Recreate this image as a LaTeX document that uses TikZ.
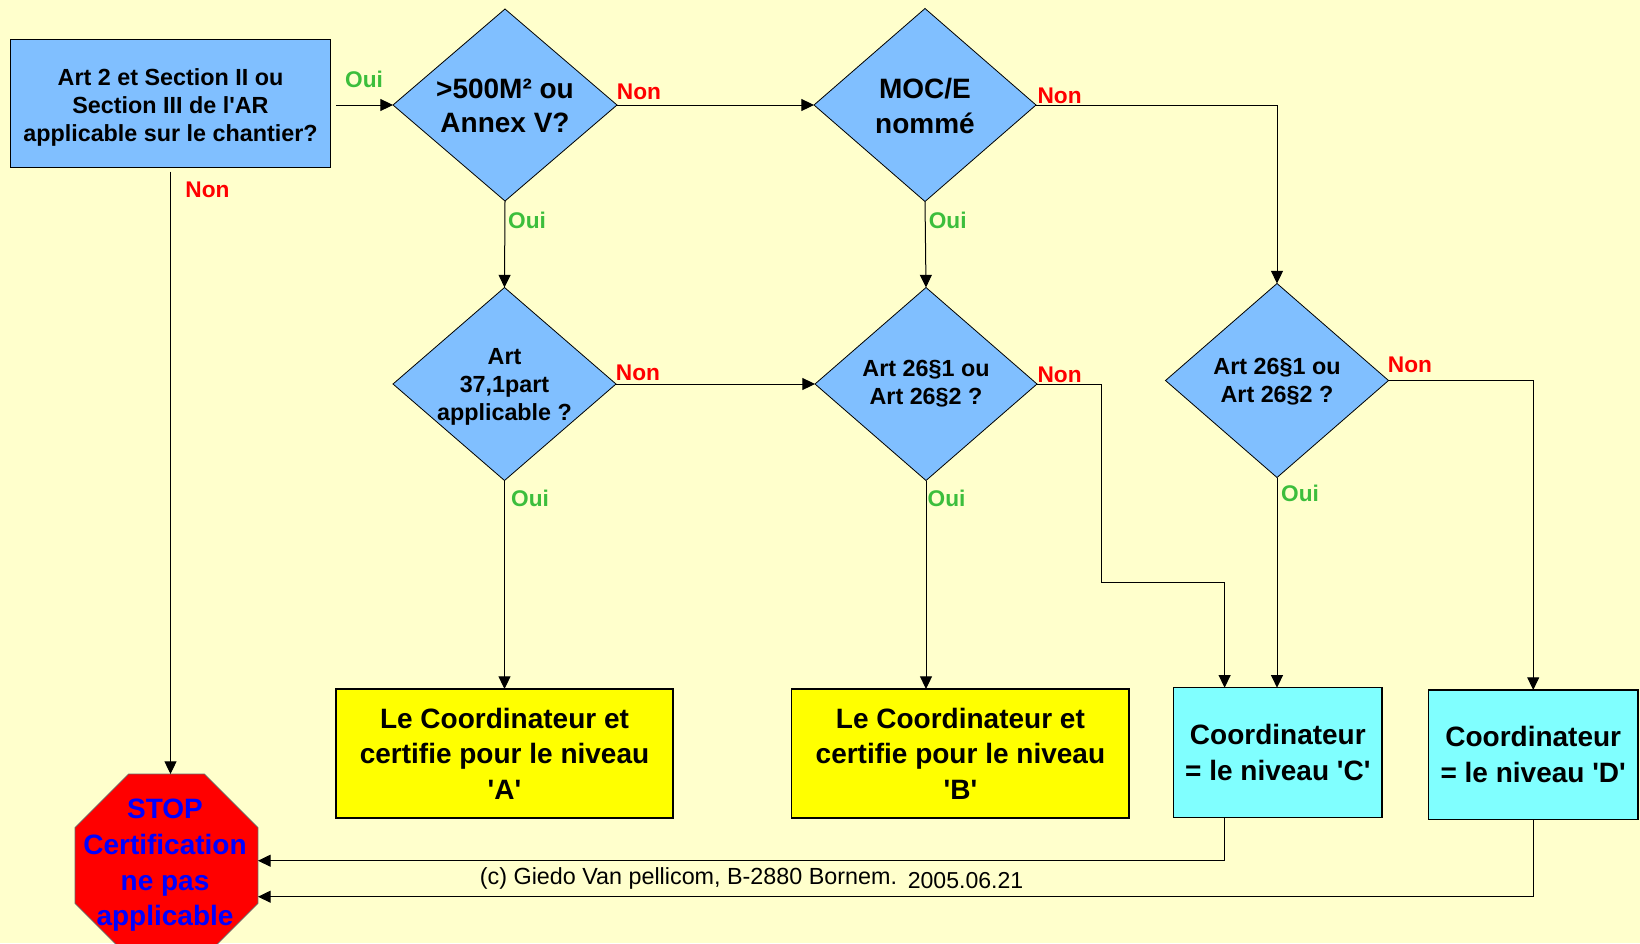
\documentclass[tikz,border=0pt]{standalone}
\usepackage{fontspec}
\setmainfont{Liberation Sans}
\usetikzlibrary{shapes.geometric,arrows.meta,calc}
\definecolor{bgc}{HTML}{FFFFCC}
\definecolor{qblue}{HTML}{80BFFF}
\definecolor{ayel}{HTML}{FFFF00}
\definecolor{acyan}{HTML}{80FFFF}
\definecolor{ogreen}{HTML}{3CBE3C}
\newcommand{\qq}{\textquotesingle}
\begin{document}
\begin{tikzpicture}[x=0.75pt,y=-0.75pt,
  boxbase/.style={draw=black, line width=0.9pt, rectangle, inner sep=0pt, outer sep=0pt, align=center},
  qbox/.style={boxbase, fill=qblue},
  qtxt/.style={align=center, inner sep=0pt, font=\fontsize{17.5}{21.2}\selectfont\bfseries},
  ybox/.style={boxbase, fill=ayel, font=\fontsize{21}{26.7}\selectfont\bfseries},
  cbox/.style={boxbase, fill=acyan, font=\fontsize{21}{27.4}\selectfont\bfseries},
  dia/.style={diamond, draw=black, line width=0.6pt, fill=qblue, inner sep=0pt, outer sep=0pt},
  dtxt/.style={align=center, inner sep=0pt, font=\fontsize{17.5}{21.2}\selectfont\bfseries},
  dbig/.style={align=center, inner sep=0pt, font=\fontsize{21}{25.9}\selectfont\bfseries},
  yeslbl/.style={text=ogreen, inner sep=0pt, font=\fontsize{17}{20}\selectfont\bfseries},
  nolbl/.style={text=red, inner sep=0pt, font=\fontsize{17}{20}\selectfont\bfseries},
  arr/.style={line width=0.75pt, -{Triangle[length=9.5pt,width=9pt]}}
]
\fill[bgc] (0,0) rectangle (1640,943);
\useasboundingbox (0,0) rectangle (1640,943);

% nodes
\node[qbox, minimum width=240pt, minimum height=96pt] (b1) at (170.5,103.5) {};
\node[qtxt] (t0) at (170.5,107.5)
  {Art 2 et Section II ou\\Section III de l\qq AR\\applicable sur le chantier?};
\node[dia, minimum width=168pt, minimum height=144pt] (d1) at (505,105) {};
\node[dbig] (t1) at (505,106) {>500M² ou\\Annex V?};
\node[dia, minimum width=166.5pt, minimum height=144.75pt] (d2) at (925,105) {};
\node[dbig] (t2) at (925,106) {MOC/E\\nommé};
\node[dia, minimum width=167.25pt, minimum height=144.75pt] (d3) at (504.5,384) {};
\node[dtxt] (t3) at (504.5,386.8) {Art\\37,1part\\applicable ?};
\node[dia, minimum width=166.5pt, minimum height=144.75pt] (d4) at (926,384) {};
\node[dtxt] (t4) at (926,383.6) {Art 26§1 ou\\Art 26§2 ?};
\node[dia, minimum width=167.25pt, minimum height=145.5pt] (d5) at (1277,380.5) {};
\node[dtxt] (t5) at (1277,381.6) {Art 26§1 ou\\Art 26§2 ?};

\node[ybox, minimum width=252.75pt, minimum height=96.75pt] (bA) at (504.5,753.5)
  {Le Coordinateur et\\certifie pour le niveau\\\qq A\qq};
\node[ybox, minimum width=253pt, minimum height=96.75pt] (bB) at (960.4,753.5)
  {Le Coordinateur et\\certifie pour le niveau\\\qq B\qq};
\node[cbox, minimum width=156.3pt, minimum height=97.2pt] (bC) at (1277.8,752.5)
  {Coordinateur\\= le niveau \qq C\qq};
\node[cbox, minimum width=157.2pt, minimum height=97pt] (bD) at (1533.2,754.6)
  {Coordinateur\\= le niveau \qq D\qq};

\node[regular polygon, regular polygon sides=8, minimum size=148.5pt, inner sep=0pt, outer sep=0pt,
  fill=red, draw=black!60, line width=0.5pt] (oct) at (166.5,865.5) {};
\node[align=center, inner sep=0pt, text=blue, font=\fontsize{21}{26.7}\selectfont\bfseries] (otxt) at (165,865.5)
  {STOP\\Certification\\ne pas\\applicable};

\node[inner sep=0pt, font=\fontsize{17.5}{21}\selectfont] (c1) at (688.5,878.6) {(c) Giedo Van pellicom, B-2880 Bornem.};
\node[inner sep=0pt, font=\fontsize{17.3}{21}\selectfont] (c2) at (965.5,880.5) {2005.06.21};

% helper coordinates
\coordinate (k1) at (1101,582.6);
\coordinate (k2) at (1224.6,582.6);
\coordinate (cline) at (0,860.7);
\coordinate (dline) at (0,896.7);

% connectors
\draw[arr, shorten <=4pt] (b1.east |- d1.west) -- (d1.west);
\draw[arr, shorten <=3pt] (b1.south) -- (b1.south |- oct.north);
\draw[arr] (d1.east) -- (d2.west);
\draw[arr] (d1.south) -- (d3.north);
\draw[arr] (d2.east) -| (d5.north);
\draw[arr] (d2.south) -- (d4.north);
\draw[arr] (d3.east) -- (d4.west);
\draw[arr] (d3.south) -- (bA.north);
\draw[arr] (d4.south) -- (d4.south |- bB.north);
\draw[arr] (d4.east) -| (k1) -| (k2 |- bC.north);
\draw[arr] (d5.south) -- (d5.south |- bC.north);
\draw[arr] (d5.east) -| (bD.north);
\draw[arr] (k2 |- bC.south) |- (oct.east |- cline);
\draw[arr] (bD.south) |- (oct.east |- dline);

% labels
\node[yeslbl] (l1) at (364,79.5) {Oui};
\node[nolbl] (l2) at (207.5,190) {Non};
\node[nolbl] (l3) at (639,92) {Non};
\node[yeslbl] (l4) at (527,220.7) {Oui};
\node[nolbl] (l5) at (1059.6,96.2) {Non};
\node[yeslbl] (l6) at (947.7,220.7) {Oui};
\node[nolbl] (l7) at (638,372.4) {Non};
\node[yeslbl] (l8) at (530,498) {Oui};
\node[nolbl] (l9) at (1059.6,374.5) {Non};
\node[yeslbl] (l10) at (946.6,498) {Oui};
\node[nolbl] (l11) at (1410,365) {Non};
\node[yeslbl] (l12) at (1300,493.7) {Oui};
\end{tikzpicture}
\end{document}
